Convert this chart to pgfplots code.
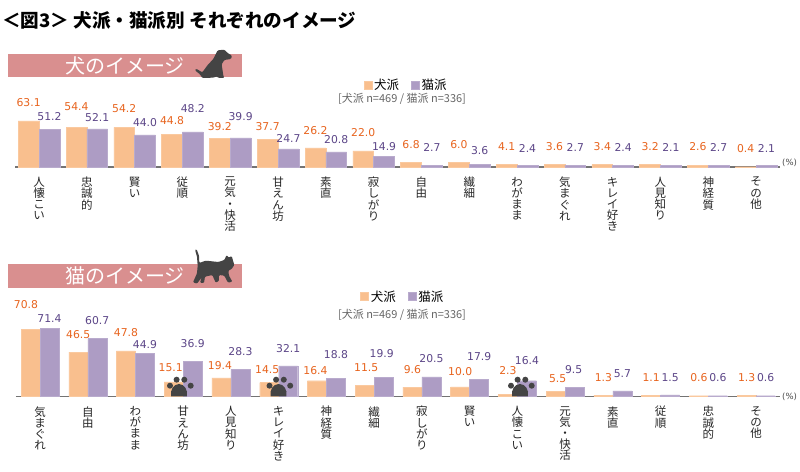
\documentclass[border=0pt]{standalone}
\usepackage{fontspec}
\usepackage{pgfplots}
\pgfplotsset{compat=1.18}
\setmainfont{Noto Sans CJK JP}
\newfontfamily\numf{DejaVu Sans}
\definecolor{ob}{HTML}{F9BF8E}
\definecolor{pb}{HTML}{AD9CC4}
\definecolor{ol}{HTML}{E8641E}
\definecolor{pl}{HTML}{5C4688}
\definecolor{ban}{HTML}{D98F8F}
\definecolor{sil}{HTML}{444444}
\pgfplotsset{
  labeled/.style n args={2}{
    ybar, bar width=#1, bar shift=#2,
    nodes near coords={\pgfmathprintnumber[fixed,fixed zerofill,precision=1,assume math mode=true]{\pgfplotspointmeta}},
    visualization depends on={value \thisrow{y}\as\yv},
    visualization depends on={value \thisrow{dx}\as\dxv},
    visualization depends on={value \thisrow{ly}\as\lyv},
    every node near coord/.append style={xshift=#2},
  },
  panel/.style={
    scale only axis, clip=false,
    axis x line=bottom, axis y line=none,
    x axis line style={draw=black!55,line width=1.1pt,-},
    xtick=data, major tick length=0pt,
    ymin=0, ymax=80,
    xticklabel style={align=center,font=\fontsize{11.5}{11.2}\selectfont,anchor=north,yshift=-6.5pt,text=black!85},
    legend image code/.code={\fill[##1] (0pt,-4pt) rectangle (8pt,4pt);},
    legend columns=2,
    legend style={draw=none,fill=none,font=\fontsize{12.5}{13}\selectfont,inner sep=0pt,
      /tikz/every even column/.append style={column sep=10pt}},
  },
}
\newcommand{\paw}[2]{%
  \begin{scope}[shift={(#1pt,{(471-#2)*1pt})}]
    \fill[sil] (-7.8pt,-3.4pt) .. controls (-9.5pt,3pt) and (-5pt,9pt) .. (0pt,9pt)
      .. controls (5pt,9pt) and (9.5pt,3pt) .. (7.8pt,-3.4pt) -- cycle;
    \foreach \a/\b in {-9/7.3,-2.4/13.3,5.3/13.3,11.7/7.3}{\fill[sil] (\a pt,\b pt) circle (3pt);}
  \end{scope}}
\begin{document}
\begin{tikzpicture}[x=1pt,y=1pt]
\path[use as bounding box,fill=white] (0pt,0pt) rectangle (800pt,471pt);
% title
\node[anchor=west,inner sep=0pt,font=\fontsize{18.6}{20}\selectfont\bfseries] at (2pt,450pt) {＜図3＞ 犬派・猫派別 それぞれのイメージ};
% banners
\fill[ban] (8pt,393.5pt) rectangle (241.7pt,417pt);
\node[text=white,font=\fontsize{20}{22}\selectfont] at (125pt,405pt) {犬のイメージ};
\fill[ban] (8pt,182.7pt) rectangle (241.7pt,207pt);
\node[text=white,font=\fontsize{20}{22}\selectfont] at (125pt,195pt) {猫のイメージ};
% dog
\begin{scope}[shift={(185pt,426pt)},x=0.3333pt,y=-0.3333pt]
\fill[sil,rounded corners=1pt] (33,71) -- (52,82) -- (68,60) -- (85,42) -- (92,28) -- (98,16) -- (118,14) -- (128,24) -- (141,32) -- (138,42) -- (118,45) -- (110,58) -- (115,92) -- (118,99) -- (100,99) -- (96,94) -- (85,98) -- (52,99) -- (45,88) -- (30,76) -- cycle;
\end{scope}
% cat
\begin{scope}[shift={(185pt,226pt)},x=0.3333pt,y=-0.3333pt]
\fill[sil,rounded corners=1pt] (30,14) -- (35,13) -- (42,32) -- (43,54) -- (62,47) -- (100,51) -- (118,45) -- (125,30) -- (131,38) -- (140,33) -- (148,60) -- (140,72) -- (130,77) -- (132,92) -- (142,110) -- (129,113) -- (118,92) -- (102,90) -- (102,108) -- (92,113) -- (82,90) -- (60,95) -- (57,114) -- (45,113) -- (50,97) -- (36,116) -- (24,112) -- (36,85) -- (38,62) -- (36,35) -- cycle;
\end{scope}
% dog panel
\begin{axis}[panel, at={(15.5pt,304pt)}, anchor=south west, width=764.5pt, height=58.4pt,
  xmin=-0.492, xmax=15.5,
  xticklabels={{人\\懐\\こ\\い},{忠\\誠\\的},{賢\\い},{従\\順},{元\\気\\・\\快\\活},{甘\\え\\ん\\坊},{素\\直},{寂\\し\\が\\り},{自\\由},{繊\\細},{わ\\が\\ま\\ま},{気\\ま\\ぐ\\れ},{キ\\レ\\イ\\好\\き},{人\\見\\知\\り},{神\\経\\質},{そ\\の\\他}},
  legend style={at={(axis cs:7.68,112)},anchor=center},
  every node near coord/.style={anchor=center,inner sep=0pt,font=\numf\fontsize{10.8}{12}\selectfont,xshift=\dxv pt,yshift={(167-\lyv-\yv*0.73)*1pt}},
]
\addplot[labeled={20.8pt}{-10.4pt},fill=ob,draw=ob!85!white,every node near coord/.append style={text=ol}] table {
x y dx ly
0 63.1 0 103
1 54.4 0 107
2 54.2 0 109
3 44.8 0 121
4 39.2 0 127
5 37.7 0 127
6 26.2 0 131
7 22.0 0 133
8 6.8 0 145
9 6.0 0 145
10 4.1 0 147
11 3.6 0 147
12 3.4 0 147
13 3.2 0 147
14 2.6 0 147
15 0.4 0 149
};
\addplot[labeled={20.8pt}{10.4pt},fill=pb,draw=pb!85!white,every node near coord/.append style={text=pl}] table {
x y dx ly
0 51.2 0 117
1 52.1 0 118
2 44.0 0 123
3 48.2 0 109
4 39.9 0 117
5 24.7 0 138
6 20.8 0 140
7 14.9 0 147
8 2.7 0 147
9 3.6 0 151
10 2.4 0 148
11 2.7 0 147
12 2.4 0 147
13 2.1 0 147
14 2.7 0 147
15 2.1 0 148
};
\legend{犬派,猫派}
\end{axis}
% cat panel
\begin{axis}[panel, at={(16pt,74.7pt)}, anchor=south west, width=764pt, height=76pt,
  xmin=-0.503, xmax=15.5,
  xticklabels={{気\\ま\\ぐ\\れ},{自\\由},{わ\\が\\ま\\ま},{甘\\え\\ん\\坊},{人\\見\\知\\り},{キ\\レ\\イ\\好\\き},{神\\経\\質},{繊\\細},{寂\\し\\が\\り},{賢\\い},{人\\懐\\こ\\い},{元\\気\\・\\快\\活},{素\\直},{従\\順},{忠\\誠\\的},{そ\\の\\他}},
  legend style={at={(axis cs:7.6,105)},anchor=center},
  every node near coord/.style={anchor=center,inner sep=0pt,font=\numf\fontsize{10.8}{12}\selectfont,xshift=\dxv pt,yshift={(396.3-\lyv-\yv*0.95)*1pt}},
]
\addplot[labeled={19pt}{-9.5pt},fill=ob,draw=ob!85!white,every node near coord/.append style={text=ol}] table {
x y dx ly
0 70.8 -4.5 305
1 46.5 0 335
2 47.8 0 333
3 15.1 -3 368
4 19.4 -1.5 366
5 14.5 -2 370
6 16.4 -1.5 371
7 11.5 1.5 368
8 9.6 0 370
9 10.0 0 372
10 2.3 0 371
11 5.5 2 379
12 1.3 0 378
13 1.1 0 378
14 0.6 0 378
15 1.3 0 378
};
\addplot[labeled={19pt}{9.5pt},fill=pb,draw=pb!85!white,every node near coord/.append style={text=pl}] table {
x y dx ly
0 71.4 0 319
1 60.7 0 321
2 44.9 0 345
3 36.9 0 344
4 28.3 0 352
5 32.1 0 349
6 18.8 0 355
7 19.9 -2 354
8 20.5 0 359
9 17.9 0 357
10 16.4 0 361
11 9.5 -1 370
12 5.7 0 374
13 1.5 0 378
14 0.6 0 378
15 0.6 0 378
};
\legend{犬派,猫派}
\end{axis}
% paws
\paw{179}{393}\paw{278.5}{393}\paw{520}{393}
% notes
\node[text=black!60,font=\fontsize{11}{12}\selectfont,inner sep=0pt] at (402pt,372pt) {[犬派 n=469 / 猫派 n=336]};
\node[text=black!60,font=\fontsize{11}{12}\selectfont,inner sep=0pt] at (402pt,156pt) {[犬派 n=469 / 猫派 n=336]};
\node[text=black!70,font=\numf\fontsize{8.5}{9}\selectfont,inner sep=0pt,anchor=west] at (782pt,308pt) {(\%)};
\node[text=black!70,font=\numf\fontsize{8.5}{9}\selectfont,inner sep=0pt,anchor=west] at (782pt,74pt) {(\%)};
\end{tikzpicture}
\end{document}
